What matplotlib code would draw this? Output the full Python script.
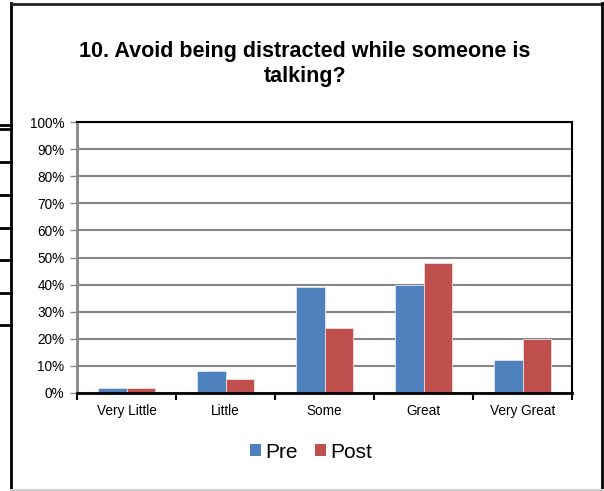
import matplotlib
matplotlib.use("Agg")
import matplotlib.pyplot as plt
from matplotlib.lines import Line2D
from matplotlib.patches import Patch
import numpy as np

plt.rcParams['font.family'] = ['Liberation Sans', 'DejaVu Sans']

categories = ["Very Little", "Little", "Some", "Great", "Very Great"]
pre = [2, 8, 39, 40, 12]
post = [2, 5, 24, 48, 20]
yticks = [0, 10, 20, 30, 40, 50, 60, 70, 80, 90, 100]
series_names = ["Pre", "Post"]
colors = ["#4F81BD", "#C0504D"]
title = "10. Avoid being distracted while someone is\ntalking?"

W, H = 604, 491
fig = plt.figure(figsize=(W / 100, H / 100), dpi=100)

# plot area in pixel coordinates
x0, x1, ytop, ybot = 77, 572, 122, 393
ax = fig.add_axes([x0 / W, 1 - ybot / H, (x1 - x0) / W, (ybot - ytop) / H])

x = np.arange(len(categories))
bw = 0.286
ax.bar(x - bw / 2, pre, bw, color=colors[0], edgecolor="#DCE6F2", linewidth=0.6, zorder=3)
ax.bar(x + bw / 2, post, bw, color=colors[1], edgecolor="#F2DCDB", linewidth=0.6, zorder=3)

ax.set_xlim(-0.5, len(categories) - 0.5)
ax.set_ylim(0, 100)
ax.set_yticks(yticks)
ax.set_yticklabels([f"{v}%" for v in yticks], fontsize=9.8)
ax.tick_params(axis="y", length=5, width=1, color="#868686", pad=4)
ax.yaxis.grid(True, color="#868686", linewidth=1.5, zorder=0)
ax.set_axisbelow(True)

ax.set_xticks(x)
ax.set_xticklabels(categories, fontsize=9.8)
ax.tick_params(axis="x", which="major", length=0, pad=8)
ax.set_xticks(np.arange(len(categories) + 1) - 0.5, minor=True)
ax.tick_params(axis="x", which="minor", length=5, width=1.5, color="black")

ax.spines["left"].set_color("#868686")
ax.spines["left"].set_linewidth(2)
ax.spines["bottom"].set_color("black")
ax.spines["bottom"].set_linewidth(2)
ax.spines["bottom"].set_zorder(4)
ax.spines["top"].set_color("black")
ax.spines["top"].set_linewidth(1.5)
ax.spines["right"].set_color("black")
ax.spines["right"].set_linewidth(1.5)

fig.text(305 / W, 1 - 64 / H, title, ha="center", va="center",
         fontsize=15.5, fontweight="bold", linespacing=1.2)

handles = [Patch(facecolor=c, edgecolor="none") for c in colors]
fig.legend(handles, series_names, loc="center", bbox_to_anchor=(311 / W, 1 - 452 / H),
           ncol=2, frameon=False, fontsize=15, handlelength=0.55, handleheight=0.55,
           handletextpad=0.2, columnspacing=0.8)

# outer frame of the chart
def fig_line(xs, ys, **kw):
    fig.add_artist(Line2D([v / W for v in xs], [1 - v / H for v in ys],
                          transform=fig.transFigure, **kw))

fig_line([11, 11], [3, 491], color="black", linewidth=2)
fig_line([11, 604], [4, 4], color="#222222", linewidth=2)
fig_line([602, 602], [3, 491], color="black", linewidth=2)
fig_line([11, 604], [490, 490], color="#D0D0D0", linewidth=1.5)

# table rules at the left edge
for yy in [125, 129, 162, 195, 228, 260, 293, 325]:
    fig_line([0, 11], [yy, yy], color="black", linewidth=2)

fig.savefig("out.png", dpi=100)
